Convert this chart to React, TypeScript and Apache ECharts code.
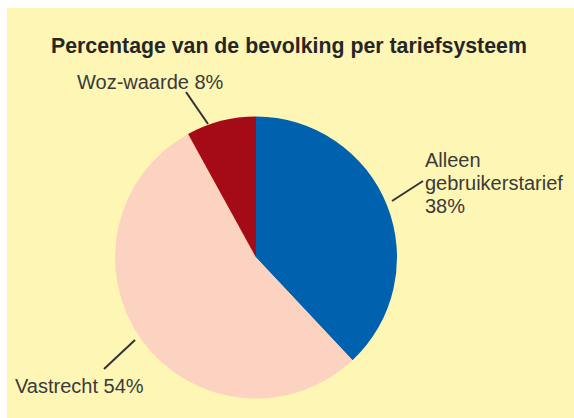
import React, { useEffect, useRef } from "react";
import * as echarts from "echarts";

const title = "Percentage van de bevolking per tariefsysteem";
const categories = ["Alleen\ngebruikerstarief", "Vastrecht", "Woz-waarde"];
const values = [38, 54, 8];
const colors = ["#0062ae", "#fcd3c1", "#a50b16"];

// label anchors (left, middle) and label line ends near each label
const labelPos: [number, number][] = [
  [425, 183],
  [15, 386],
  [77, 82],
];
const lineEnds: [[number, number], [number, number]][] = [
  [[392, 201], [423, 181]],
  [[135, 340], [104, 369]],
  [[208, 124], [186, 92]],
];

export default function App() {
  const ref = useRef<HTMLDivElement>(null);
  useEffect(() => {
    if (!ref.current) return;
    const chart = echarts.init(ref.current, null, { renderer: "svg" });
    chart.setOption({
      animation: false,
      backgroundColor: "#ffffff",
      graphic: [
        {
          type: "rect",
          shape: { x: 7, y: 8, width: 567, height: 410 },
          style: { fill: "#fef6b5" },
          z: -10,
        },
      ],
      title: {
        text: title,
        left: 46,
        top: 30,
        textStyle: {
          fontFamily: "Liberation Sans",
          fontWeight: "bold",
          fontSize: 21.3,
          color: "#262626",
        },
      },
      series: [
        {
          type: "pie",
          center: [256, 257.5],
          radius: 141,
          startAngle: 90,
          clockwise: true,
          data: categories.map((c, i) => ({
            name: c,
            value: values[i],
            itemStyle: { color: colors[i] },
          })),
          itemStyle: { borderWidth: 0 },
          label: {
            show: true,
            formatter: (p: any) => `${p.name}${p.dataIndex === 0 ? "\n" : " "}${p.value}%`,
            fontFamily: "Liberation Sans",
            fontSize: 20,
            lineHeight: 23,
            color: "#3a3a3a",
            overflow: "none",
            width: 200,
          },
          labelLine: {
            show: true,
            lineStyle: { color: "#333333", width: 2 },
          },
          labelLayout: (params: any) => {
            const i = params.dataIndex;
            const [a, b] = lineEnds[i];
            return {
              x: labelPos[i][0],
              y: labelPos[i][1],
              align: "left",
              verticalAlign: "middle",
              labelLinePoints: [a, a, b],
            };
          },
          emphasis: { disabled: true },
        },
      ],
    });
    return () => chart.dispose();
  }, []);
  return (
    <div
      ref={ref}
      style={{ position: "fixed", left: 0, top: 0, width: 574, height: 418 }}
    />
  );
}
